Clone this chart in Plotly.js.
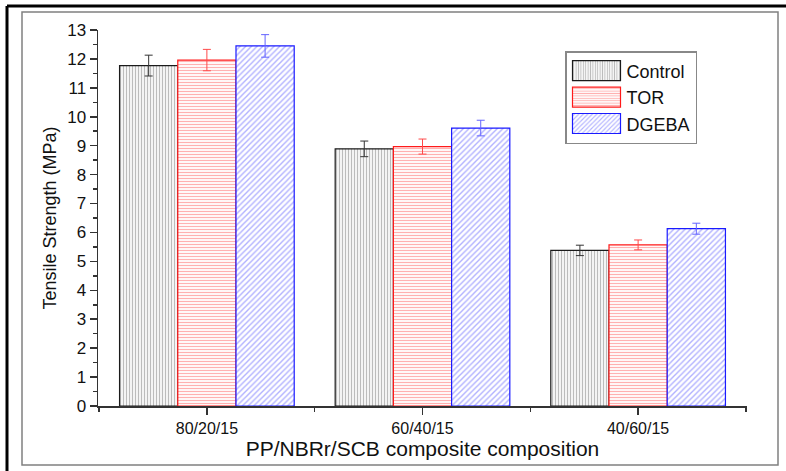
<!DOCTYPE html>
<html>
<head>
<meta charset="utf-8">
<script src="https://cdn.plot.ly/plotly-3.0.1.min.js"></script>
<style>
  html, body { margin: 0; padding: 0; background: #ffffff; }
  #chart { width: 786px; height: 471px; }
</style>
</head>
<body>
<div id="chart"></div>
<script>
// Data
const categories = ["80/20/15", "60/40/15", "40/60/15"];
const seriesNames = ["Control", "TOR", "DGEBA"];
const controlValues = [11.77, 8.89, 5.38];
const controlErrors = [0.36, 0.27, 0.18];
const torValues = [11.96, 8.97, 5.57];
const torErrors = [0.37, 0.26, 0.17];
const dgebaValues = [12.45, 9.61, 6.13];
const dgebaErrors = [0.39, 0.27, 0.19];
const yTickValues = [0,1,2,3,4,5,6,7,8,9,10,11,12,13];

const xIdx = categories.map((c, i) => i);

const styles = [
  {line: "#1a1a1a", fg: "#7a7a7a", shape: "|", size: 3, sol: 0.45, err: "#333333"},
  {line: "#ff1a1a", fg: "#ff6464", shape: "-", size: 3, sol: 0.4, err: "#ff4a4a"},
  {line: "#1a1aff", fg: "#6464ff", shape: "/", size: 4, sol: 0.35, err: "#6464ff"}
];
const values = [controlValues, torValues, dgebaValues];
const errors = [controlErrors, torErrors, dgebaErrors];

const traces = seriesNames.map((name, k) => ({
  type: "bar",
  name: name,
  x: xIdx,
  y: values[k],
  error_y: {type: "data", array: errors[k], visible: true, color: styles[k].err, thickness: 1, width: 4},
  marker: {
    color: "#ffffff",
    line: {color: styles[k].line, width: 1.2},
    pattern: {shape: styles[k].shape, fgcolor: styles[k].fg, bgcolor: "#ffffff",
              size: styles[k].size, solidity: styles[k].sol, fillmode: "overlay"}
  },
  hoverinfo: "x+y"
}));

// helpers: pixel -> paper coordinates (plot area: x 98..747, y 30..406)
const L = 98, R = 747, T = 30, B = 406;
const px = v => (v - L) / (R - L);
const py = v => (B - v) / (B - T);

const layout = {
  width: 786, height: 471,
  margin: {l: L, r: 786 - R, t: T, b: 471 - B},
  paper_bgcolor: "#ffffff",
  plot_bgcolor: "#ffffff",
  font: {family: "Liberation Sans, Arial, sans-serif", color: "#111111"},
  barmode: "group",
  bargap: 0.19,
  bargroupgap: 0,
  showlegend: true,
  legend: {
    x: px(565), y: py(51), xanchor: "left", yanchor: "top",
    bordercolor: "#888888", borderwidth: 1.5, bgcolor: "#ffffff",
    font: {size: 18, color: "#111111"},
    itemwidth: 50, tracegroupgap: 0
  },
  xaxis: {
    range: [-0.505, 2.505],
    tickmode: "array", tickvals: xIdx, ticktext: categories,
    ticks: "outside", ticklen: 7, tickwidth: 1.5, tickcolor: "#333333",
    minor: {dtick: 0.5, tick0: -0.5, ticks: "outside", ticklen: 4, tickwidth: 1.5, tickcolor: "#333333", showgrid: false},
    showline: true, linecolor: "#333333", linewidth: 1.5,
    showgrid: false, zeroline: false,
    tickfont: {size: 16, color: "#111111"},
    title: {text: "PP/NBRr/SCB composite composition", font: {size: 21, color: "#111111"}, standoff: 3},
    fixedrange: true
  },
  yaxis: {
    range: [0, 13],
    tickmode: "array", tickvals: yTickValues,
    ticks: "outside", ticklen: 7, tickwidth: 1.5, tickcolor: "#333333",
    minor: {dtick: 0.5, tick0: 0, ticks: "outside", ticklen: 3.5, tickwidth: 1.5, tickcolor: "#333333", showgrid: false},
    showline: true, linecolor: "#333333", linewidth: 1.5,
    showgrid: false, zeroline: false,
    tickfont: {size: 17, color: "#111111"},
    title: {text: "Tensile Strength (MPa)", font: {size: 18, color: "#111111"}, standoff: 6},
    fixedrange: true
  },
  shapes: [
    // inner gray frame
    {type: "rect", xref: "paper", yref: "paper", x0: px(22), x1: px(778), y0: py(465), y1: py(12),
     line: {color: "#808080", width: 1.5}, fillcolor: "rgba(0,0,0,0)", layer: "below"},
    // outer black frame (top and left edges)
    {type: "line", xref: "paper", yref: "paper", x0: px(7), x1: px(790), y0: py(6), y1: py(6),
     line: {color: "#000000", width: 3}},
    {type: "line", xref: "paper", yref: "paper", x0: px(7), x1: px(7), y0: py(6), y1: py(475),
     line: {color: "#000000", width: 3}}
  ]
};

Plotly.newPlot("chart", traces, layout, {displayModeBar: false, staticPlot: true}).then(gd => {
  // enlarge the legend swatches to the wide rectangles of the reference
  gd.querySelectorAll(".legend .legendpoints path").forEach(p => {
    p.setAttribute("d", "M24,10H-24V-10H24Z");
  });
});
</script>
</body>
</html>
